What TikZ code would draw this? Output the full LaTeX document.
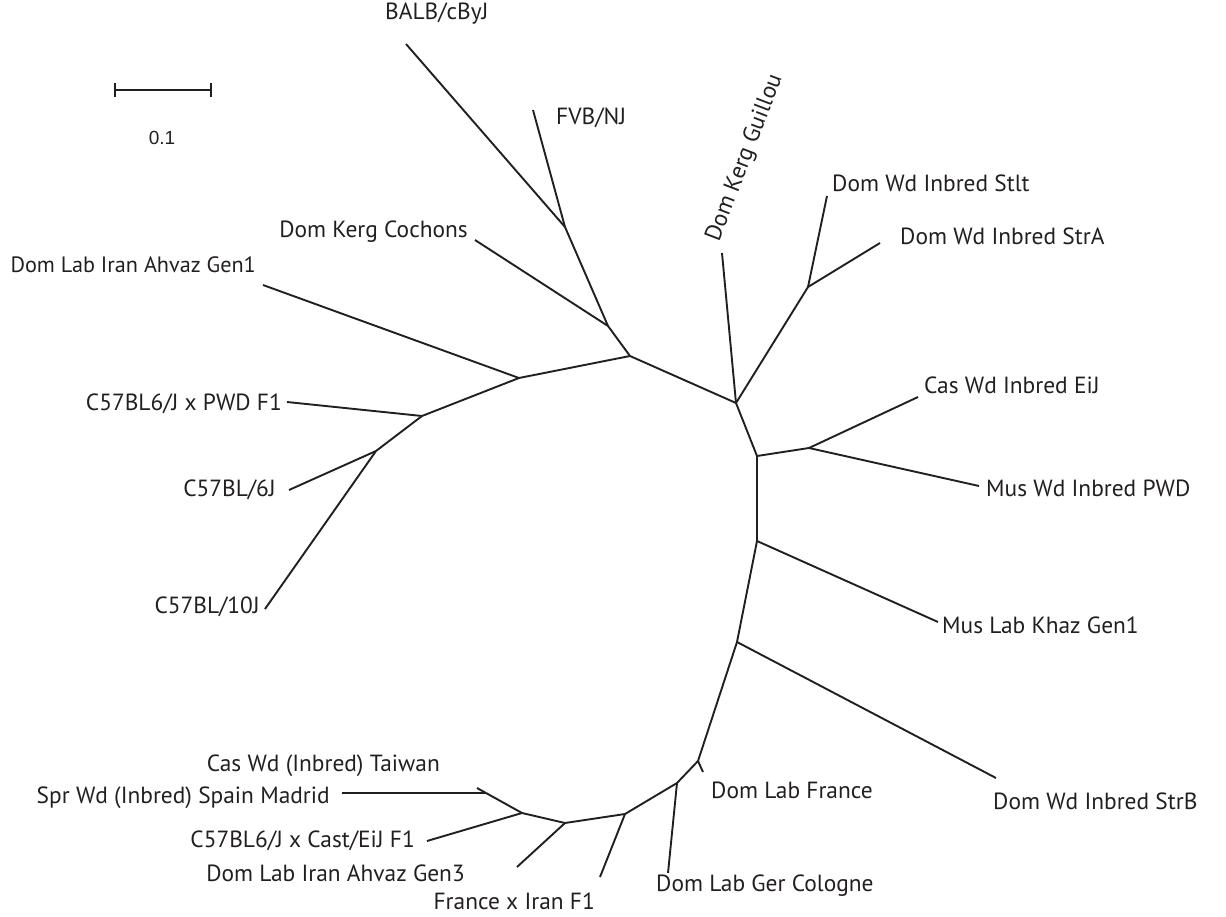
\documentclass[tikz,border=0pt]{standalone}
\usepackage{fontspec}
\setmainfont{PT Sans}
\newfontfamily\barfont{Liberation Sans}
\definecolor{ink}{RGB}{35,31,32}
\begin{document}
\begin{tikzpicture}[x=1pt,y=-1pt,
  br/.style={draw=ink, line width=1.9pt},
  lbl/.style={inner sep=0pt, text=ink, font=\fontsize{23.4}{28}\selectfont},
  lw/.style={lbl, anchor=mid west},
  le/.style={lbl, anchor=mid east}]
\useasboundingbox (0,0) rectangle (1226,917);
% junctions
\coordinate (Bj) at (565,227);
\coordinate (A) at (608,326);
\coordinate (B) at (630,356);
\coordinate (C) at (736,403);
\coordinate (D) at (808,287);
\coordinate (E) at (757,456);
\coordinate (F) at (809,448);
\coordinate (G) at (757,541);
\coordinate (H) at (737,642);
\coordinate (I) at (698,761);
\coordinate (J) at (677,783);
\coordinate (K) at (625,814);
\coordinate (L) at (565,823);
\coordinate (M) at (522,813);
\coordinate (N) at (486,793);
\coordinate (P) at (519,378);
\coordinate (Q) at (422,416);
\coordinate (R) at (376,451);
% tips
\coordinate (tBALB) at (406,44);
\coordinate (tFVB) at (533,110);
\coordinate (tCoch) at (475,240);
\coordinate (tGuil) at (722,253);
\coordinate (tStIt) at (827,196);
\coordinate (tStrA) at (880,243);
\coordinate (tCasE) at (918,397);
\coordinate (tMusP) at (979,486);
\coordinate (tKhaz) at (938,622);
\coordinate (tStrB) at (996,778);
\coordinate (tFra) at (703,772);
\coordinate (tCol) at (668,873);
\coordinate (tFxI) at (600,877);
\coordinate (tGen3) at (517,867);
\coordinate (tCast) at (427,841);
\coordinate (tTai) at (477,788);
\coordinate (tSpr) at (342,793);
\coordinate (tGen1) at (263,285);
\coordinate (tPWDF) at (287,402);
\coordinate (t6J) at (289,490);
\coordinate (t10J) at (265,609);
% branches
\draw[br] (Bj) -- (tBALB);
\draw[br] (Bj) -- (tFVB);
\draw[br] (A) -- (Bj);
\draw[br] (A) -- (tCoch);
\draw[br] (A) -- (B);
\draw[br] (B) -- (P);
\draw[br] (B) -- (C);
\draw[br] (C) -- (tGuil);
\draw[br] (C) -- (D);
\draw[br] (D) -- (tStIt);
\draw[br] (D) -- (tStrA);
\draw[br] (C) -- (E);
\draw[br] (E) -- (F);
\draw[br] (F) -- (tCasE);
\draw[br] (F) -- (tMusP);
\draw[br] (E) -- (G);
\draw[br] (G) -- (tKhaz);
\draw[br] (G) -- (H);
\draw[br] (H) -- (tStrB);
\draw[br] (H) -- (I);
\draw[br] (I) -- (tFra);
\draw[br] (I) -- (J);
\draw[br] (J) -- (tCol);
\draw[br] (J) -- (K);
\draw[br] (K) -- (tFxI);
\draw[br] (K) -- (L);
\draw[br] (L) -- (tGen3);
\draw[br] (L) -- (M);
\draw[br] (M) -- (tCast);
\draw[br] (M) -- (N);
\draw[br] (N) -- (tTai);
\draw[br] (N) -- (tSpr);
\draw[br] (P) -- (tGen1);
\draw[br] (P) -- (Q);
\draw[br] (Q) -- (tPWDF);
\draw[br] (Q) -- (R);
\draw[br] (R) -- (t6J);
\draw[br] (R) -- (t10J);
% labels
\node[lw] (lBALB) at (385,17) {BALB/cByJ};
\node[lw] (lFVB) at (556,122) {FVB/NJ};
\node[lbl, rotate=69] (lGuil) at (745,158) {Dom Kerg Guillou};
\node[lw] (lStIt) at (832,189) {Dom Wd Inbred Stlt};
\node[lw] (lStrA) at (900,242) {Dom Wd Inbred StrA};
\node[lw] (lCasE) at (924,391) {Cas Wd Inbred EiJ};
\node[lw] (lMusP) at (986,494) {Mus Wd Inbred PWD};
\node[lw] (lKhaz) at (942,631) {Mus Lab Khaz Gen1};
\node[lw] (lStrB) at (993,807) {Dom Wd Inbred StrB};
\node[lw] (lFra) at (711,796) {Dom Lab France};
\node[lw] (lCol) at (656,889) {Dom Lab Ger Cologne};
\node[le] (lFxI) at (595,907) {France x Iran F1};
\node[le] (lGen3) at (465,879) {Dom Lab Iran Ahvaz Gen3};
\node[le] (lCast) at (415,845) {C57BL6/J x Cast/EiJ F1};
\node[le] (lSpr) at (330,801) {Spr Wd (Inbred) Spain Madrid};
\node[le] (lTai) at (440,769) {Cas Wd (Inbred) Taiwan};
\node[le] (l10J) at (260,611) {C57BL/10J};
\node[le] (l6J) at (276,494) {C57BL/6J};
\node[le] (lPWDF) at (282,408) {C57BL6/J x PWD F1};
\node[le, font=\fontsize{22.2}{26}\selectfont] (lGen1) at (256,270) {Dom Lab Iran Ahvaz Gen1};
\node[le] (lCoch) at (468,235) {Dom Kerg Cochons};
% scale bar
\coordinate (s1) at (115,90);
\coordinate (s2) at (211,90);
\draw[draw=ink, line width=1.5pt] (s1) -- (s2);
\draw[draw=ink, line width=1.5pt] ([yshift=-7]s1) -- ([yshift=7]s1);
\draw[draw=ink, line width=1.5pt] ([yshift=-7]s2) -- ([yshift=7]s2);
\node[inner sep=0pt, text=ink, font=\barfont\fontsize{19}{22}\selectfont] (lbar) at (162,138) {0.1};
\end{tikzpicture}
\end{document}
